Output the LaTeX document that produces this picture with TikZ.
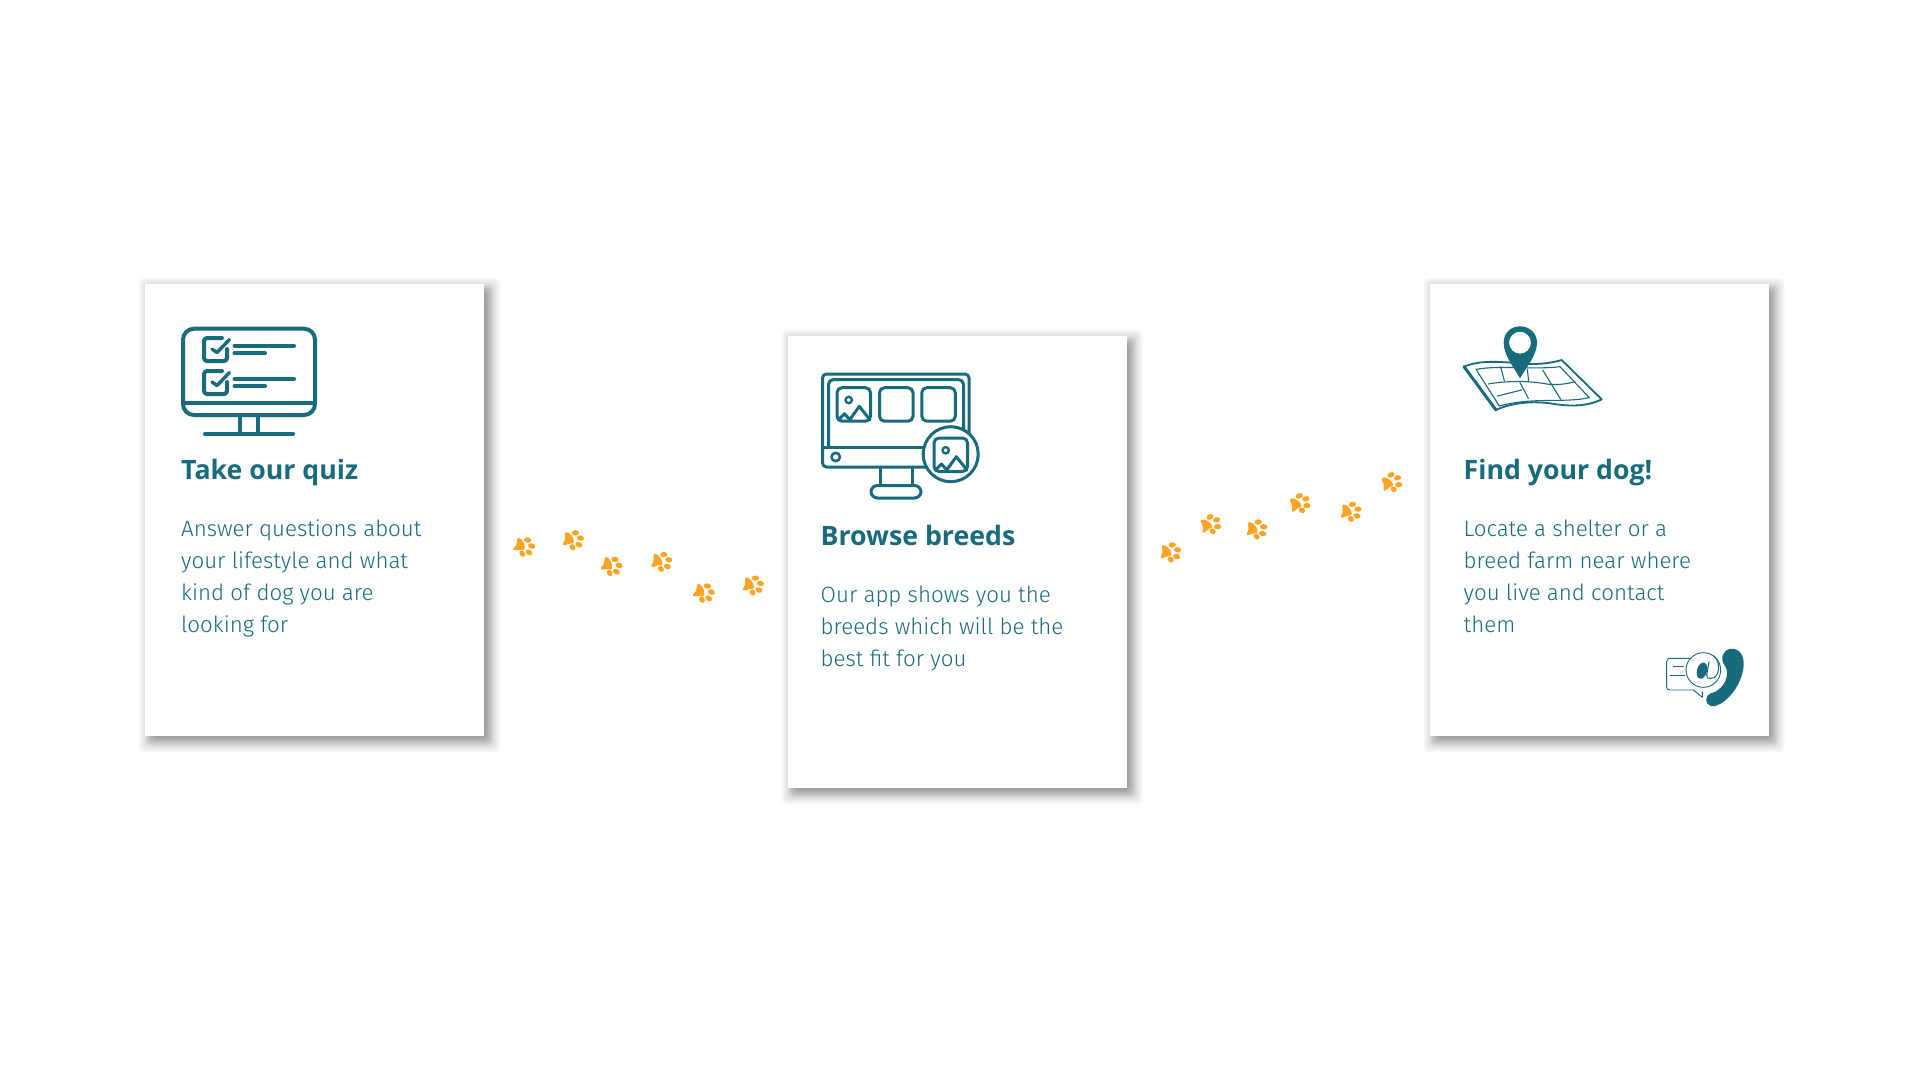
\documentclass[tikz,border=0pt]{standalone}
\usepackage{fontspec}
\setmainfont{Fira Sans Light}
\newfontfamily\headfont{Open Sans}
\definecolor{teal}{HTML}{176B7C}
\definecolor{pawc}{HTML}{FFA326}
\tikzset{
  x=1pt,y=-1pt,
  cardbox/.style={draw=none,fill=white,inner sep=0pt,minimum width=339pt,minimum height=452pt,anchor=north west},
  head/.style={text=teal,font=\headfont\bfseries\fontsize{26.7}{30}\selectfont,inner sep=0pt,anchor=base west},
  body/.style={text=teal,font=\fontsize{22.3}{32}\selectfont,inner sep=0pt,anchor=base west,align=left},
  icon/.style={draw=teal,line cap=round,line join=round},
}
\newcommand{\cardshadow}[2]{%
  \foreach \r in {11,9,7,5,4,3,2,1,0,-1,-2,-3}{%
    \fill[black,opacity=0.035,rounded corners=5pt] (#1+5-\r,#2+5-\r) rectangle (#1+339+5+\r,#2+452+5+\r);
  }}
\newcommand{\pawmark}[3]{%
  \begin{scope}[shift={(#1,#2)},rotate=#3,scale=1/3]
    \fill[pawc] (-17,-27) .. controls (-6,-24) and (3,-8) .. (1,6) .. controls (0,12) and (-6,11) .. (-12,9) .. controls (-18,7) and (-28,14) .. (-33,9) .. controls (-35,3) and (-23,0) .. (-22,-14) .. controls (-22,-20) and (-22,-27) .. (-17,-27) -- cycle;
    \fill[pawc] (10,-20) ellipse [x radius=11,y radius=8,rotate=-10];
    \fill[pawc] (22,-2) ellipse [x radius=11,y radius=8,rotate=-20];
    \fill[pawc] (14,17) ellipse [x radius=11,y radius=8,rotate=-30];
    \fill[pawc] (-6,21) ellipse [x radius=8,y radius=10,rotate=30];
  \end{scope}}
\newcommand{\checkrow}[1]{%
  \begin{scope}[shift={(0,#1)}]
    \draw[icon,line width=4pt,rounded corners=3pt] (222,338)--(204,338)--(204,361)--(227,361)--(227,349);
    \draw[icon,line width=3.4pt] (212,349)--(217,352.5)--(229.5,339.5);
    \draw[icon,line width=4pt] (234.5,345.7)--(294,345.7);
    \draw[icon,line width=4pt] (234.5,353.3)--(265,353.3);
  \end{scope}}
\newcommand{\picttile}[2]{%
  \begin{scope}[shift={(#1,#2)}]
    \draw[icon,line width=3pt,rounded corners=5pt] (0,0) rectangle (33.5,33.5);
    \draw[icon,line width=2.4pt] (11.7,12.3) circle (3.2);
    \draw[icon,line width=3pt] (1.5,32)--(7.5,26)--(12.7,32)--(22.3,18.7)--(33,32);
  \end{scope}}
\begin{document}
\begin{tikzpicture}
\useasboundingbox[fill=white] (0,0) rectangle (1920,1080);
% shadows
\cardshadow{145}{284}
\cardshadow{787.5}{336}
\cardshadow{1429.5}{284}
% cards
\node[cardbox] (card1) at (145,284) {};
\node[cardbox] (card2) at (787.5,336) {};
\node[cardbox] (card3) at (1429.5,284) {};
% monitor 1
\draw[icon,line width=4pt,rounded corners=11pt] (183,328.7) rectangle (315,415);
\draw[icon,line width=4pt,line cap=butt] (183,402.7)--(315,402.7);
\draw[icon,line width=4pt,line cap=butt] (240,415)--(240,433.7);
\draw[icon,line width=4pt,line cap=butt] (258,415)--(258,433.7);
\draw[icon,line width=4pt] (205,433.7)--(293,433.7);
\checkrow{0}
\checkrow{33}
% monitor 2
\draw[icon,line width=3pt,rounded corners=4pt] (822.5,374)--(969,374)--(969,467)--(822.5,467)--cycle;
\draw[icon,line width=3pt,rounded corners=5pt] (828.5,447.3)--(828.5,379.5)--(963.5,379.5)--(963.5,447.3);
\draw[icon,line width=3pt] (822.5,447.3)--(969,447.3);
\draw[icon,line width=2.6pt] (835.7,457) circle (4.2);
\picttile{837}{387.7}
\begin{scope}[shift={(879.5,387.7)}]\draw[icon,line width=3pt,rounded corners=5pt] (0,0) rectangle (33.5,33.5);\end{scope}
\begin{scope}[shift={(921.8,387.7)}]\draw[icon,line width=3pt,rounded corners=5pt] (0,0) rectangle (33.5,33.5);\end{scope}
\draw[icon,line width=3pt,line cap=butt] (880,467)--(880,485);
\draw[icon,line width=3pt,line cap=butt] (912.3,467)--(912.3,485);
\draw[icon,line width=3pt,rounded corners=6.5pt] (871,485.5) rectangle (921,498);
\fill[white] (950.7,454.2) circle (27.5);
\draw[icon,line width=3pt] (950.7,454.2) circle (27.5);
\picttile{934}{438}
% map + pin
\begin{scope}[shift={(1440,310)},scale=1/3]
  \draw[icon,line width=1.8pt] (72,170) .. controls (120,150) and (175,155) .. (240,160) .. controls (290,165) and (330,160) .. (365,150) -- (485,268) .. controls (440,290) and (390,290) .. (330,280) .. controls (270,272) and (210,280) .. (168,300);
  \draw[icon,line width=3pt] (168,300)--(72,170);
  \draw[icon,line width=1.1pt] (108,178) .. controls (180,165) and (280,180) .. (360,170) -- (448,263) .. controls (370,280) and (280,260) .. (178,288) -- cycle;
  \draw[icon,line width=1.1pt] (182,170)--(193,213);
  \draw[icon,line width=1.1pt] (262,178)--(266,215);
  \draw[icon,line width=1.1pt] (308,180)--(362,268);
  \draw[icon,line width=1.1pt] (145,222) .. controls (200,212) and (270,212) .. (320,222) .. controls (350,226) and (380,222) .. (405,215);
  \draw[icon,line width=1.1pt] (240,218)--(265,265);
  \draw[icon,line width=1.1pt] (172,258)--(245,240);
  \fill[teal,even odd rule] (240,205) .. controls (220,170) and (191,135) .. (191,98) .. controls (191,68) and (213,49) .. (240,49) .. controls (267,49) and (291,68) .. (291,98) .. controls (291,135) and (260,170) .. (240,205) -- cycle (240,98) circle (33);
\end{scope}
% contact icon
\begin{scope}[shift={(1640,630)},scale=1/3]
  \draw[icon,line width=0.9pt,rounded corners=3pt] (148,85)--(80,85)--(80,180)--(160,180);
  \draw[icon,line width=0.9pt] (160,180)--(187,202)--(187,185);
  \draw[icon,line width=0.9pt] (100,108)--(130,108);
  \draw[icon,line width=0.9pt] (90,137)--(135,137);
  \fill[white] (190,120) circle (52);
  \draw[icon,line width=0.9pt] (190,120) circle (52);
  \fill[teal] (186,122) ellipse [x radius=15,y radius=25,rotate=-15];
  \draw[icon,line width=1pt] (207,95)--(200,135) .. controls (198,150) and (222,150) .. (232,132) .. controls (240,115) and (236,90) .. (222,78);
  \fill[teal] (268,57) .. controls (292,52) and (311,70) .. (311,100) .. controls (312,150) and (270,215) .. (225,228) .. controls (205,232) and (192,215) .. (202,198) .. controls (210,186) and (225,190) .. (236,178) .. controls (256,164) and (270,130) .. (255,108) .. controls (240,88) and (246,64) .. (268,57) -- cycle;
\end{scope}
% paws
\pawmark{524.3}{546.7}{0}
\pawmark{573.3}{540}{10}
\pawmark{611.7}{566}{0}
\pawmark{661.7}{561.7}{10}
\pawmark{704}{592.7}{0}
\pawmark{753.3}{585.3}{10}
\pawmark{1170.7}{552.3}{15}
\pawmark{1210.7}{524.3}{32}
\pawmark{1256.7}{529.3}{15}
\pawmark{1300}{503.3}{32}
\pawmark{1351}{511.7}{15}
\pawmark{1391.7}{482.3}{32}
% text
\node[head] (h1) at (181,479.5) {Take our quiz};
\node[head] (h2) at (820.5,545.5) {Browse breeds};
\node[head] (h3) at (1463.5,479.5) {Find your dog!};
\node[body] (b1) at (181,632.7) {Answer questions about\\your lifestyle and what\\kind of dog you are\\looking for};
\node[body] (b2) at (820.5,666.7) {Our app shows you the\\breeds which will be the\\best fit for you};
\node[body] (b3) at (1463.5,632.7) {Locate a shelter or a\\breed farm near where\\you live and contact\\them};
\end{tikzpicture}
\end{document}
